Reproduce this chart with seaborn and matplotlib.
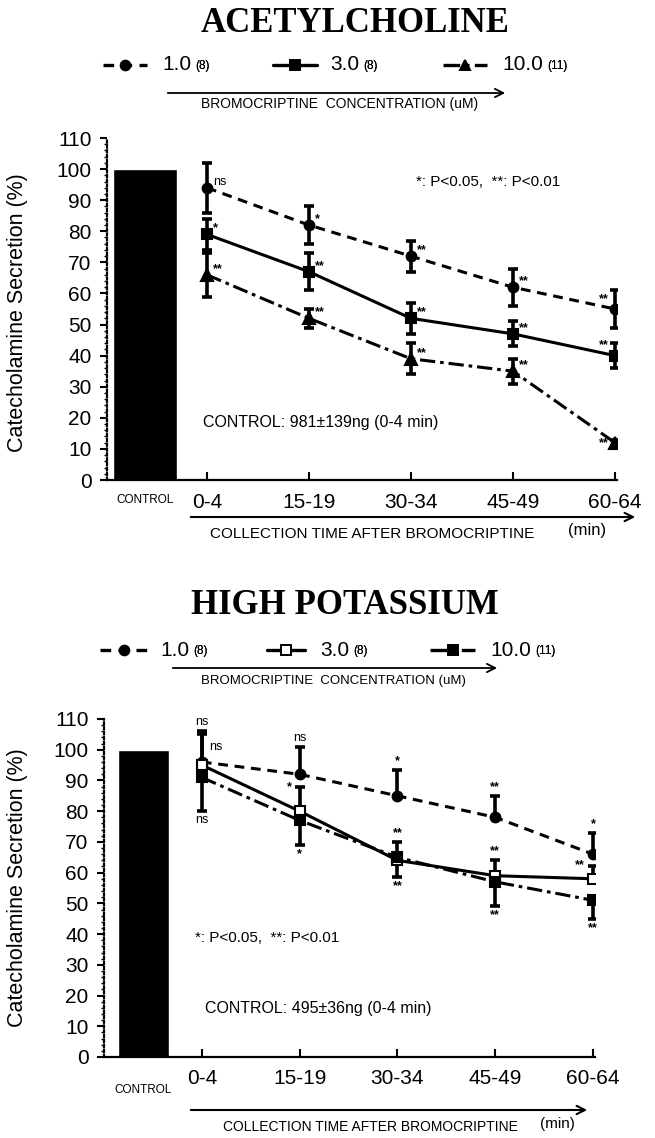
import matplotlib
matplotlib.use("Agg")
import matplotlib.pyplot as plt
from matplotlib.lines import Line2D
from matplotlib.ticker import MultipleLocator
import numpy as np
import pandas as pd
import seaborn as sns

# ---------------- data ----------------
times = ["0-4", "15-19", "30-34", "45-49", "60-64"]
concentrations = ["1.0", "3.0", "10.0"]
n_counts = ["(8)", "(8)", "(11)"]
control_value = 100

# Acetylcholine panel
ach_mean_1 = [94, 82, 72, 62, 55]
ach_err_1 = [8, 6, 5, 6, 6]
ach_sig_1 = ["ns", "*", "**", "**", "**"]
ach_mean_3 = [79, 67, 52, 47, 40]
ach_err_3 = [5, 6, 5, 4, 4]
ach_sig_3 = ["*", "**", "**", "**", "**"]
ach_mean_10 = [66, 52, 39, 35, 12]
ach_err_10 = [7, 3, 5, 4, 1]
ach_sig_10 = ["**", "**", "**", "**", "**"]

# High potassium panel
hk_mean_1 = [96, 92, 85, 78, 66]
hk_err_1 = [10, 9, 8.5, 7, 7]
hk_sig_1 = ["ns", "ns", "*", "**", "*"]
hk_mean_3 = [95, 80, 64, 59, 58]
hk_err_3 = [10, 8, 6, 5, 4]
hk_sig_3 = ["ns", "*", "**", "**", "**"]
hk_mean_10 = [91, 77, 65, 57, 51]
hk_err_10 = [11, 8, 6.5, 8, 6]
hk_sig_10 = ["ns", "*", "**", "**", "**"]

ach_control_text = "CONTROL: 981\u00b1139ng (0-4 min)"
hk_control_text = "CONTROL: 495\u00b136ng (0-4 min)"
p_text = "*: P<0.05,  **: P<0.01"

# ---------------- style ----------------
sns.set_theme(style="white")
plt.rcParams["font.family"] = ["Liberation Sans", "DejaVu Sans"]
plt.rcParams["text.color"] = "black"

W, H = 655, 1138
fig = plt.figure(figsize=(W / 100, H / 100), dpi=100)


def fx(px):
    return px / W


def fy(py):
    return 1 - py / H


SERIF = ["Liberation Serif", "DejaVu Serif"]

DASH = (0, (3.2, 2.2))
DASHDOT = (0, (5, 1.6, 1.2, 1.6))


def make_axes(left, right, bottom_px, top_px, xmin):
    ax = fig.add_axes([fx(left), fy(bottom_px), fx(right - left), (bottom_px - top_px) / H])
    ax.set_xlim(xmin, 4.02)
    ax.set_ylim(0, 110)
    ax.set_facecolor("white")
    for s in ["top", "right"]:
        ax.spines[s].set_visible(False)
    ax.spines["bottom"].set_color("black")
    ax.spines["bottom"].set_linewidth(1.6)
    ax.spines["left"].set_color("black")
    ax.spines["left"].set_linewidth(1.6)
    ax.spines["left"].set_linestyle((0, (1, 1.2)))
    ax.yaxis.set_major_locator(MultipleLocator(10))
    ax.yaxis.set_minor_locator(MultipleLocator(2))
    ax.tick_params(axis="y", which="major", direction="out", length=5, width=1.5,
                   colors="black", labelsize=15, pad=6, left=True)
    ax.tick_params(axis="y", which="minor", direction="out", length=2, width=1.0,
                   colors="black", left=True)
    ax.set_xticks(range(len(times)))
    ax.set_xticklabels(times)
    ax.tick_params(axis="x", which="major", direction="in", length=6, width=1.5,
                   colors="black", labelsize=15, pad=9, bottom=True)
    ax.grid(False)
    return ax


def draw_panel(ax, bar_x, bar_w, series, sig_layout, err_sides):
    ax.bar([bar_x], [control_value], width=bar_w, color="black", zorder=2)
    for (mean, err, sig, ls, marker, mfc, ms), layout, side in zip(series, sig_layout, err_sides):
        df = pd.DataFrame({"t": np.arange(len(times)), "v": mean})
        sns.lineplot(data=df, x="t", y="v", ax=ax, color="black", linewidth=2.2,
                     linestyle=ls, marker=marker, markersize=ms, markerfacecolor=mfc,
                     markeredgecolor="black", markeredgewidth=1.5, zorder=4, legend=False)
        err = np.asarray(err, dtype=float)
        if side == "both":
            yerr = [err, err]
        elif side == "up":
            yerr = [np.zeros_like(err), err]
        else:
            yerr = [err, np.zeros_like(err)]
        ax.errorbar(np.arange(len(times)), mean, yerr=yerr, fmt="none", ecolor="black",
                    elinewidth=2.6, capsize=3.5, capthick=2.6, zorder=3)
        for i, (lab, pos) in enumerate(zip(sig, layout)):
            kind, dx, dy = pos
            if kind == "pt":
                y0 = mean[i]
            elif kind == "top":
                y0 = mean[i] + (err[i] if side != "down" else 0)
            else:
                y0 = mean[i] - (err[i] if side != "up" else 0)
            ha = "left" if dx > 0 else ("right" if dx < 0 else "center")
            ax.annotate(lab, xy=(i, y0), xytext=(dx, dy), textcoords="offset pixels",
                        ha=ha, va="center", fontsize=9,
                        fontweight="bold" if lab != "ns" else "normal",
                        annotation_clip=False, zorder=5)
    ax.set_xlabel("")
    ax.set_ylabel("Catecholamine Secretion (%)", fontsize=15.5, color="black")


def legend_block(y, items, arrow, arrow_y, text_x, text_y, text_size, title, title_x, title_y):
    fig.text(fx(title_x), fy(title_y), title, family=SERIF, fontweight="bold",
             fontsize=25, ha="center", va="center")
    for (x0, x1, tx, ls, marker, mfc, label, n) in items:
        ln = Line2D([fx(x0), fx(x1)], [fy(y), fy(y)], transform=fig.transFigure,
                    color="black", linewidth=2.4, linestyle=ls)
        fig.add_artist(ln)
        mk = Line2D([fx((x0 + x1) / 2)], [fy(y)], transform=fig.transFigure,
                    color="black", marker=marker, markersize=7, markerfacecolor=mfc,
                    markeredgecolor="black", markeredgewidth=1.4, linestyle="none")
        fig.add_artist(mk)
        t = fig.text(fx(tx), fy(y), label, fontsize=15, ha="left", va="center")
        ann = plt.annotate(n, xy=(1, 0.5), xycoords=t, xytext=(4, -1),
                           textcoords="offset pixels", fontsize=8.5, ha="left",
                           va="center", annotation_clip=False)
        fig.add_artist(ann)
    fig.add_artist(matplotlib.patches.FancyArrowPatch(
        (fx(arrow[0]), fy(arrow_y)), (fx(arrow[1]), fy(arrow_y)),
        transform=fig.transFigure, arrowstyle="->,head_length=6,head_width=3",
        color="black", linewidth=1.3))
    fig.text(fx(text_x), fy(text_y), "BROMOCRIPTINE  CONCENTRATION (uM)",
             fontsize=text_size, ha="center", va="center")


# ---------------- top panel: Acetylcholine ----------------
ax1 = make_axes(107, 617, 480, 138, -0.98)
series1 = [
    (ach_mean_1, ach_err_1, ach_sig_1, DASH, "o", "black", 7),
    (ach_mean_3, ach_err_3, ach_sig_3, "-", "s", "black", 7.5),
    (ach_mean_10, ach_err_10, ach_sig_10, DASHDOT, "^", "black", 8),
]
lay_right = ("pt", 6, 6)
layout1 = [
    [lay_right, lay_right, lay_right, lay_right, ("pt", -6, 10)],
    [lay_right, lay_right, lay_right, lay_right, ("pt", -6, 10)],
    [lay_right, lay_right, lay_right, lay_right, ("pt", -6, 0)],
]
draw_panel(ax1, -0.61, 0.63, series1, layout1, ["both", "both", "both"])
ax1.yaxis.set_label_coords((28 - 107) / 510, 0.49)
ax1.text(-0.61, -(500 - 480) / 342, "CONTROL", transform=ax1.get_xaxis_transform(),
         fontsize=8.5, ha="center", va="center")
ax1.text(fx(488), fy(182), p_text, transform=fig.transFigure, fontsize=11, ha="center", va="center")
ax1.text(fx(203), fy(422), ach_control_text, transform=fig.transFigure, fontsize=11.5,
         ha="left", va="center")
fig.add_artist(matplotlib.patches.FancyArrowPatch(
    (fx(188), fy(517)), (fx(638), fy(517)), transform=fig.transFigure,
    arrowstyle="->,head_length=6,head_width=3", color="black", linewidth=1.5))
fig.text(fx(210), fy(534), "COLLECTION TIME AFTER BROMOCRIPTINE", fontsize=11, ha="left", va="center")
fig.text(fx(568), fy(531), "(min)", fontsize=12, ha="left", va="center")

legend_block(
    65,
    [(103, 147, 162, DASH, "o", "black", "1.0", n_counts[0]),
     (273, 317, 330, "-", "s", "black", "3.0", n_counts[1]),
     (443, 487, 502, DASHDOT, "^", "black", "10.0", n_counts[2])],
    (165, 508), 93, 340, 104, 10, "ACETYLCHOLINE", 355, 24)

# ---------------- bottom panel: High Potassium ----------------
ax2 = make_axes(104, 595, 1057, 719, -1.0)
series2 = [
    (hk_mean_1, hk_err_1, hk_sig_1, DASH, "o", "black", 7),
    (hk_mean_3, hk_err_3, hk_sig_3, "-", "s", "white", 7.5),
    (hk_mean_10, hk_err_10, hk_sig_10, DASHDOT, "s", "black", 7.5),
]
above = ("top", 0, 9)
below = ("bot", 0, -9)
layout2 = [
    [above, above, above, above, above],
    [("pt", 7, 18), ("pt", -8, 24), above, above, ("pt", -8, 14)],
    [below, below, below, below, below],
]
draw_panel(ax2, -0.6, 0.52, series2, layout2, ["up", "up", "down"])
ax2.yaxis.set_label_coords((28 - 104) / 491, 0.5)
ax2.text(-0.6, -(1090 - 1057) / 338, "CONTROL", transform=ax2.get_xaxis_transform(),
         fontsize=8.5, ha="center", va="center")
ax2.text(fx(195), fy(938), p_text, transform=fig.transFigure, fontsize=11, ha="left", va="center")
ax2.text(fx(205), fy(1008), hk_control_text, transform=fig.transFigure, fontsize=11.5,
         ha="left", va="center")
fig.add_artist(matplotlib.patches.FancyArrowPatch(
    (fx(188), fy(1110)), (fx(590), fy(1110)), transform=fig.transFigure,
    arrowstyle="->,head_length=6,head_width=3", color="black", linewidth=1.5))
fig.text(fx(223), fy(1127), "COLLECTION TIME AFTER BROMOCRIPTINE", fontsize=10, ha="left", va="center")
fig.text(fx(540), fy(1124), "(min)", fontsize=11, ha="left", va="center")

legend_block(
    650,
    [(100, 147, 160, DASH, "o", "black", "1.0", n_counts[0]),
     (267, 305, 320, "-", "s", "white", "3.0", n_counts[1]),
     (430, 475, 490, DASHDOT, "s", "black", "10.0", n_counts[2])],
    (170, 500), 668, 333, 681, 9.5, "HIGH POTASSIUM", 345, 606)

fig.savefig("out.png", dpi=100, facecolor="white")
